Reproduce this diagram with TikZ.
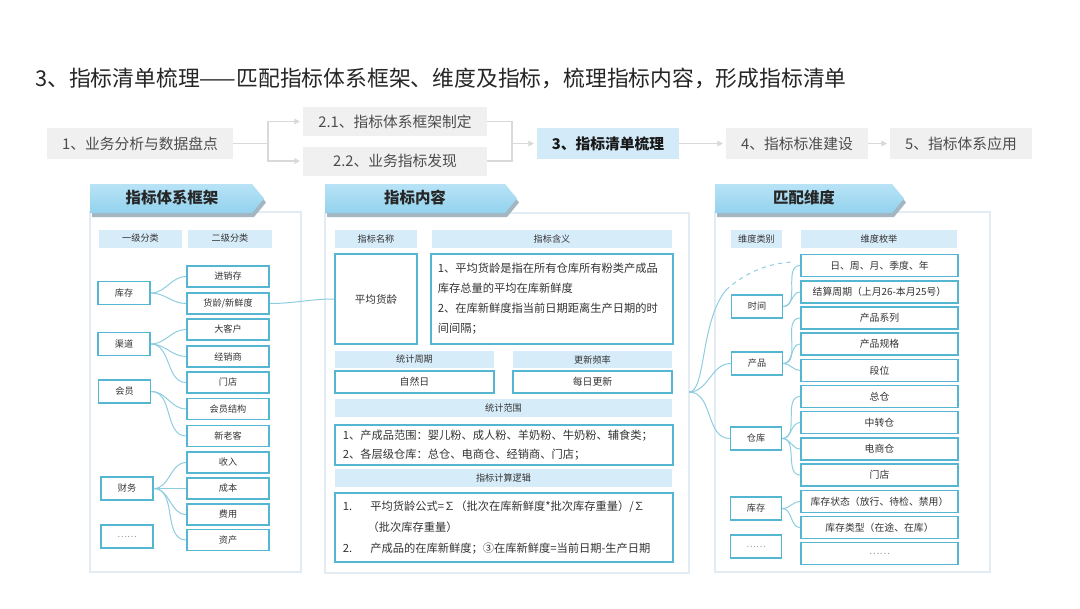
\documentclass[tikz,border=0pt]{standalone}
\usepackage{fontspec}
\setmainfont{Noto Sans CJK SC}
\usetikzlibrary{arrows.meta,calc,positioning}
\definecolor{boxline}{HTML}{55B6D2}
\definecolor{linkc}{HTML}{8DCDE0}
\definecolor{hdrfill}{HTML}{D7ECF9}
\definecolor{tabtop}{HTML}{B8E3F6}
\definecolor{tabbot}{HTML}{92D2EE}
\definecolor{tabshade}{HTML}{A3B6C2}
\definecolor{procgray}{HTML}{F0F0F0}
\definecolor{procblue}{HTML}{D3EAF8}
\definecolor{flowc}{HTML}{D9D9D9}
\definecolor{txt}{HTML}{333333}
\definecolor{panelc}{HTML}{E2ECF2}

\begin{document}
\begin{tikzpicture}[x=0.025cm, y=-0.025cm,
  every node/.style={text=txt, inner sep=0pt},
  proc/.style={fill=procgray, minimum height=0.775cm, font=\fontsize{10.5}{12}\selectfont, text=black!70},
  flow/.style={draw=flowc, line width=0.8pt},
  tip/.style={-{Triangle[length=4pt,width=4pt,fill=flowc]}, shorten >=2pt},
  hdr/.style={fill=hdrfill, minimum height=0.45cm, font=\fontsize{6.5}{8}\selectfont},
  cell/.style={draw=boxline, line width=1.1pt, fill=white, font=\fontsize{6.5}{8}\selectfont},
  lvlone/.style={cell, minimum width=1.3cm, minimum height=0.575cm},
  lvltwo/.style={cell, minimum width=2.05cm, minimum height=0.525cm},
  enum/.style={cell, minimum width=3.925cm, minimum height=0.55cm, font=\fontsize{7}{8}\selectfont},
  link/.style={draw=linkc, line width=0.7pt},
  tab/.style={font=\fontsize{11}{13}\selectfont\bfseries, text=black!85},
  panel/.style={draw=panelc, line width=0.8pt, fill=white}
]
  \fill[white] (0,0) rectangle (1080,608);
  \useasboundingbox (0,0) rectangle (1080,608);

  % title
  \node[anchor=west, font=\fontsize{15.5}{18}\selectfont, text=black!85] (title) at (35,78)
    {3、指标清单梳理——匹配指标体系框架、维度及指标，梳理指标内容，形成指标清单};

  % process bar
  \node[proc, minimum width=4.65cm] (proc1) at (140,143.5) {1、业务分析与数据盘点};
  \node[proc, minimum width=4.6cm, minimum height=0.725cm] (proc21) at (395,121.5) {2.1、指标体系框架制定};
  \node[proc, minimum width=4.6cm, minimum height=0.725cm] (proc22) at (395,161) {2.2、业务指标发现};
  \node[proc, minimum width=3.55cm, fill=procblue, text=black!90, font=\fontsize{10.5}{12}\selectfont\bfseries] (proc3) at (608,143.5) {3、指标清单梳理};
  \node[proc, minimum width=3.55cm] (proc4) at (797,143.5) {4、指标标准建设};
  \node[proc, minimum width=3.55cm] (proc5) at (961,143.5) {5、指标体系应用};
  \coordinate (br1) at (268,143.5);
  \coordinate (br2) at (512,143.5);
  \draw[flow] (proc1.east) -- (br1);
  \draw[flow, tip] (br1) |- (proc21.west);
  \draw[flow, tip] (br1) |- (proc22.west);
  \draw[flow] (proc21.east) -| (br2);
  \draw[flow] (proc22.east) -| (br2);
  \draw[flow, tip] (br2) -- (proc3.west);
  \draw[flow, tip] (proc3.east) -- (proc4.west);
  \draw[flow, tip] (proc4.east) -- (proc5.west);

  % left panel
  \begin{scope}
    \draw[panel] (90,212) rectangle (301,572);
    \fill[tabshade] (92,188) -- (254,188) -- (266,202.5) -- (254,217) -- (92,217) -- cycle;
    \shade[top color=tabtop, bottom color=tabbot] (90,184) -- (252,184) -- (264,198.5) -- (252,213) -- (90,213) -- cycle;
    \node[tab] (tabL) at (172,198) {指标体系框架};
    \node[hdr, minimum width=2.075cm] (lvlAH) at (140.5,238.5) {一级分类};
    \node[hdr, minimum width=2.1cm] (lvlBH) at (230,238.5) {二级分类};
    \node[lvlone] (kc) at (124,293) {库存};
    \node[lvlone] (qd) at (124,344) {渠道};
    \node[lvlone] (hy) at (124.5,391.5) {会员};
    \node[lvlone] (cw) at (127,488.5) {财务};
    \node[lvlone, text=black!40] (lmore) at (127,536.5) {……};
    \node[lvltwo] (jxc) at (228,276.5) {进销存};
    \node[lvltwo] (hl) at (228,303.5) {货龄/新鲜度};
    \node[lvltwo] (dkh) at (228,329.5) {大客户};
    \node[lvltwo] (jxs) at (228,356.5) {经销商};
    \node[lvltwo] (md) at (228,382.5) {门店};
    \node[lvltwo] (hyjg) at (228,409) {会员结构};
    \node[lvltwo] (xlk) at (228,436) {新老客};
    \node[lvltwo] (sr) at (228,462.5) {收入};
    \node[lvltwo] (cb) at (228,488.5) {成本};
    \node[lvltwo] (fy) at (228,514.5) {费用};
    \node[lvltwo] (zc) at (228,540) {资产};
    \foreach \a/\b in {kc/jxc, kc/hl, qd/dkh, qd/jxs, qd/md, hy/hyjg, hy/xlk, cw/sr, cw/cb, cw/fy, cw/zc}
      \draw[link] (\a.east) to[out=0, in=180] (\b.west);
  \end{scope}

  % middle panel
  \begin{scope}
    \draw[panel] (325,213) rectangle (689,573);
    \fill[tabshade] (327,188) -- (507,188) -- (519,202.5) -- (507,217) -- (327,217) -- cycle;
    \shade[top color=tabtop, bottom color=tabbot] (325,184) -- (505,184) -- (517,198.5) -- (505,213) -- (325,213) -- cycle;
    \node[tab] (tabM) at (415,198) {指标内容};
    \node[hdr, minimum width=2.05cm] (nameH) at (376,239) {指标名称};
    \node[hdr, minimum width=6cm] (meanH) at (552,239) {指标含义};
    \node[cell, minimum width=2.05cm, minimum height=2.25cm, font=\fontsize{7.5}{9}\selectfont] (avgAge) at (376,299) {平均货龄};
    \node[cell, text width=5.7cm, inner xsep=0.175cm, minimum height=2.25cm, align=left,
          font=\fontsize{8}{14.2}\selectfont] (meaning) at (552,299)
      {1、平均货龄是指在所有仓库所有粉类产成品\\库存总量的平均在库新鲜度\\2、在库新鲜度指当前日期距离生产日期的时\\间间隔；};
    \node[hdr, minimum width=3.975cm, minimum height=0.425cm] (cycleH) at (414.5,359.5) {统计周期};
    \node[hdr, minimum width=3.975cm, minimum height=0.425cm] (freqH) at (592.5,359.5) {更新频率};
    \node[cell, minimum width=3.975cm, minimum height=0.55cm, font=\fontsize{7}{8}\selectfont] (cycle) at (414.5,382) {自然日};
    \node[cell, minimum width=3.975cm, minimum height=0.55cm, font=\fontsize{7}{8}\selectfont] (freq) at (592.5,382) {每日更新};
    \node[hdr, minimum width=8.425cm] (scopeH) at (503.5,408) {统计范围};
    \node[cell, text width=8.05cm, inner xsep=0.2cm, minimum height=1cm, align=left,
          font=\fontsize{8}{13.5}\selectfont] (scope) at (504,445)
      {1、产成品范围：婴儿粉、成人粉、羊奶粉、牛奶粉、辅食类；\\2、各层级仓库：总仓、电商仓、经销商、门店；};
    \node[hdr, minimum width=8.425cm] (logicH) at (503.5,478) {指标计算逻辑};
    \node[cell, text width=8.05cm, inner xsep=0.2cm, minimum height=1.725cm, align=left,
          font=\fontsize{8}{15}\selectfont] (logic) at (504,527.5)
      {1.\hspace{1.6em}平均货龄公式=∑（批次在库新鲜度*批次库存重量）/∑\\
       \hspace{2.2em}（批次库存重量）\\
       2.\hspace{1.6em}产成品的在库新鲜度；③在库新鲜度=当前日期-生产日期};
  \end{scope}
  \draw[link] (hl.east) to[out=0, in=180] (avgAge.west);

  % right panel
  \begin{scope}
    \draw[panel] (715,212) rectangle (990,572);
    \fill[tabshade] (717,188) -- (894,188) -- (906,202.5) -- (894,217) -- (717,217) -- cycle;
    \shade[top color=tabtop, bottom color=tabbot] (715,184) -- (892,184) -- (904,198.5) -- (892,213) -- (715,213) -- cycle;
    \node[tab] (tabR) at (804,198) {匹配维度};
    \node[hdr, minimum width=1.275cm] (dimH) at (756.5,239) {维度类别};
    \node[hdr, minimum width=3.9cm] (enumH) at (879,239) {维度枚举};
    \node[lvlone, minimum width=1.275cm] (dTime) at (757,306.5) {时间};
    \node[lvlone, minimum width=1.275cm] (dProd) at (757,363.5) {产品};
    \node[lvlone, minimum width=1.275cm] (dWh) at (756,438.5) {仓库};
    \node[lvlone, minimum width=1.275cm] (dStock) at (756,508.5) {库存};
    \node[lvlone, minimum width=1.275cm, text=black!40] (dMore) at (756,546.5) {……};
    \node[enum] (e1) at (879.5,265.5) {日、周、月、季度、年};
    \node[enum] (e2) at (879.5,292) {结算周期（上月26-本月25号）};
    \node[enum] (e3) at (879.5,318) {产品系列};
    \node[enum] (e4) at (879.5,344) {产品规格};
    \node[enum] (e5) at (879.5,370.5) {段位};
    \node[enum] (e6) at (879.5,396.5) {总仓};
    \node[enum] (e7) at (879.5,422.5) {中转仓};
    \node[enum] (e8) at (879.5,449) {电商仓};
    \node[enum] (e9) at (879.5,475) {门店};
    \node[enum] (e10) at (879.5,501.5) {库存状态（放行、待检、禁用）};
    \node[enum] (e11) at (879.5,527.5) {库存类型（在途、在库）};
    \node[enum, text=black!40] (e12) at (879.5,553.5) {……};
    \foreach \a/\b in {dTime/e1, dTime/e2, dProd/e3, dProd/e4, dProd/e5, dWh/e6, dWh/e7, dWh/e8, dWh/e9, dStock/e10, dStock/e11}
      \draw[link] (\a.east) to[out=0, in=180] (\b.west);
  \end{scope}

  % fan from the content panel into the dimensions
  \coordinate (fan) at (689,392);
  \coordinate (dashA) at (726,290);
  \coordinate (dashB) at (793,262);
  \draw[link] (fan) to[out=0, in=180] (dProd.west);
  \draw[link] (fan) to[out=0, in=180] (dWh.west);
  \draw[link] (fan) .. controls (706,392) and (700,322) .. (dashA);
  \draw[link, dashed] (dashA) .. controls (748,270) and (772,263) .. (dashB);
\end{tikzpicture}
\end{document}
